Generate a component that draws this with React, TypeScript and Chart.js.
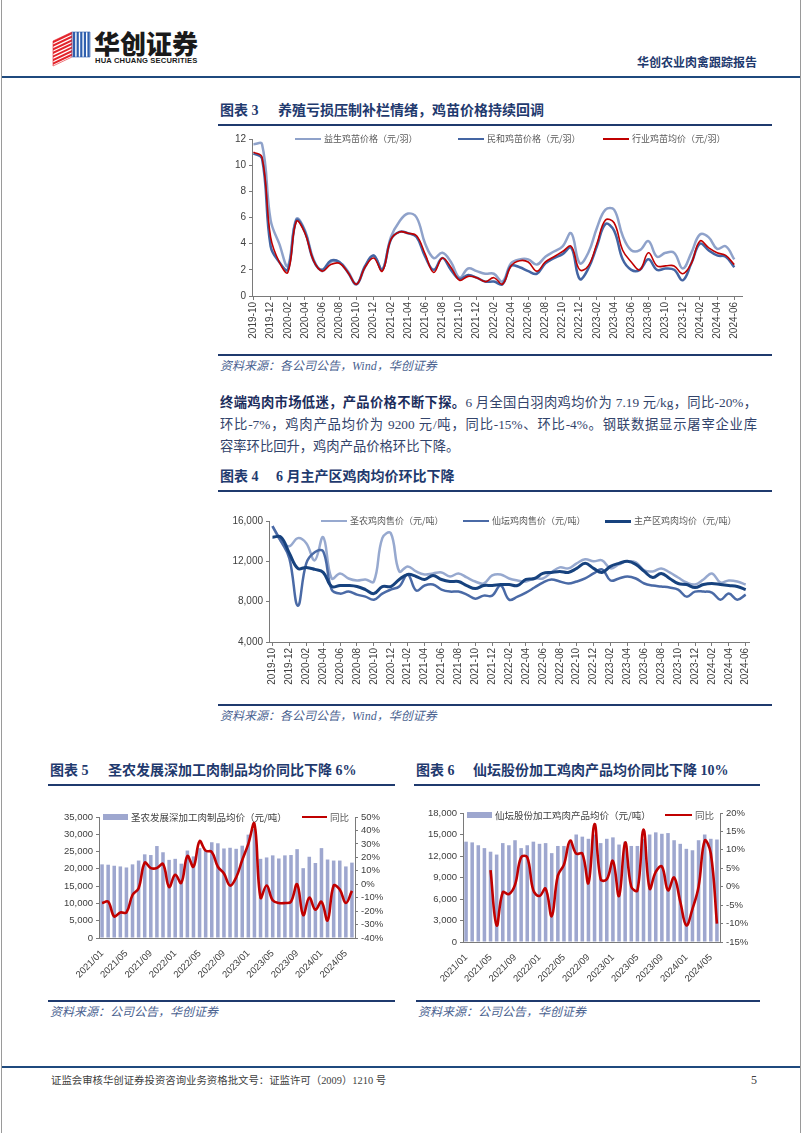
import React, { useEffect, useRef } from 'react';
import { Chart, registerables } from 'chart.js';
Chart.register(...registerables);

// ---------- Chart 3 / 4 categories ----------
const MONTHS_A = [
  '2019-10', '2019-11', '2019-12', '2020-01', '2020-02', '2020-03', '2020-04', '2020-05', '2020-06', '2020-07', '2020-08', '2020-09',
  '2020-10', '2020-11', '2020-12', '2021-01', '2021-02', '2021-03', '2021-04', '2021-05', '2021-06', '2021-07', '2021-08', '2021-09',
  '2021-10', '2021-11', '2021-12', '2022-01', '2022-02', '2022-03', '2022-04', '2022-05', '2022-06', '2022-07', '2022-08', '2022-09',
  '2022-10', '2022-11', '2022-12', '2023-01', '2023-02', '2023-03', '2023-04', '2023-05', '2023-06', '2023-07', '2023-08', '2023-09',
  '2023-10', '2023-11', '2023-12', '2024-01', '2024-02', '2024-03', '2024-04', '2024-05', '2024-06',
];

// Chart 3: chick prices (元/羽)
const YISHENG_CHICK = [
  11.6, 11.6, 5.8, 4.0, 2.3, 5.9, 5.0, 2.8, 1.9, 2.6, 2.6, 1.9,
  0.9, 2.2, 3.1, 2.0, 4.5, 5.7, 6.3, 6.0, 4.0, 2.9, 3.3, 2.6,
  1.4, 2.1, 1.9, 1.7, 1.7, 1.1, 2.5, 2.8, 2.8, 2.4, 3.0, 3.4,
  3.8, 4.8, 2.5, 3.3, 5.2, 6.6, 6.6, 4.6, 3.5, 3.5, 4.2, 3.0,
  3.3, 3.3, 2.1, 3.3, 4.7, 4.5, 3.6, 3.8, 2.8,
];
const MINHE_CHICK = [
  10.9, 10.5, 3.8, 2.6, 2.0, 5.8, 4.9, 2.7, 2.0, 2.7, 2.6, 1.8,
  0.9, 2.3, 3.1, 2.0, 4.3, 4.9, 4.8, 4.5, 3.0, 2.0, 2.9, 2.0,
  1.3, 1.6, 1.4, 1.1, 1.1, 0.9, 2.3, 2.2, 1.9, 1.7, 2.5, 2.9,
  3.2, 3.7, 1.3, 2.1, 3.8, 5.5, 5.0, 2.8, 2.0, 2.0, 2.8, 2.0,
  2.1, 2.0, 1.2, 2.5, 4.0, 3.5, 3.1, 3.0, 2.2,
];
const INDUSTRY_CHICK = [
  11.0, 10.6, 4.5, 2.6, 1.8, 5.7, 4.8, 2.7, 1.9, 2.4, 2.5, 1.8,
  0.9, 2.2, 2.9, 1.9, 4.3, 4.9, 4.8, 4.6, 3.2, 1.8, 2.9, 2.2,
  1.2, 1.5, 1.4, 1.1, 1.4, 0.9, 2.3, 2.7, 2.6, 1.9, 2.6, 3.0,
  3.4, 3.8, 2.0, 2.3, 4.0, 5.8, 5.6, 3.5, 2.6, 2.0, 3.3, 2.3,
  2.3, 2.3, 1.7, 2.5, 4.2, 3.7, 3.3, 3.1, 2.4,
];

// Chart 4: chicken meat prices (元/吨)
const SHENGNONG_MEAT = [
  15500, 14000, 13500, 14300, 13800, 12100, 14400, 10300, 10800, 10300, 10100, 10200,
  10000, 14300, 14800, 11000, 11500, 11000, 10700, 10800, 10900, 10500, 10800, 10400,
  10000, 9800, 10600, 10700, 10300, 10100, 10000, 10300, 10300, 10900, 11400, 11300,
  11800, 12200, 12000, 12100, 11300, 11700, 12000, 11900, 11100, 11000, 11300, 10900,
  10400, 9900, 9700, 10200, 10800, 9900, 10100, 10000, 9700,
];
const XIANTAN_MEAT = [
  15500, 14000, 12300, 7600, 11800, 12900, 13000, 9200, 8800, 9000, 8700, 8500,
  8200, 8800, 9200, 9500, 10700, 9100, 9600, 9700, 9200, 9000, 9000, 8700,
  8300, 8600, 8600, 9600, 8200, 8500, 8900, 9400, 9900, 10200, 10000, 9800,
  10000, 10300, 10800, 11200, 10100, 10300, 10500, 10300, 9800, 9600, 9500, 9400,
  9200, 8500, 9000, 9000, 8900, 8200, 8800, 8200, 8700,
];
const MAIN_AREA_MEAT = [
  14400, 14400, 12800, 11300, 11400, 11200, 10900, 9500, 9600, 9600, 9500, 9200,
  8800, 9500, 9500, 10200, 10700, 10500, 10200, 10600, 10200, 10000, 10000, 9600,
  9300, 9600, 9600, 9700, 9700, 9600, 10200, 10300, 10800, 10900, 11000, 10900,
  11300, 11800, 11300, 10900, 11500, 11800, 12000, 11700, 11000, 10400, 10800, 10300,
  9800, 9700, 9400, 9700, 9800, 9700, 9600, 9500, 9200,
];

// ---------- Chart 5 / 6 categories ----------
const MONTHS_B = [
  '2021/01', '2021/02', '2021/03', '2021/04', '2021/05', '2021/06', '2021/07', '2021/08', '2021/09', '2021/10', '2021/11', '2021/12',
  '2022/01', '2022/02', '2022/03', '2022/04', '2022/05', '2022/06', '2022/07', '2022/08', '2022/09', '2022/10', '2022/11', '2022/12',
  '2023/01', '2023/02', '2023/03', '2023/04', '2023/05', '2023/06', '2023/07', '2023/08', '2023/09', '2023/10', '2023/11', '2023/12',
  '2024/01', '2024/02', '2024/03', '2024/04', '2024/05', '2024/06',
];

// Chart 5: 圣农发展深加工肉制品
const SN_PRICE = [
  21300, 21200, 20900, 20700, 20400, 21300, 22400, 24200, 24000, 26600, 24800, 22600,
  22900, 21500, 25300, 23600, 26000, 25200, 27700, 27400, 25900, 26100, 25800, 26700,
  29900, 31500, 22900, 23300, 23900, 23000, 23900, 24000, 25700, 20200, 23500, 21700,
  26000, 22700, 22400, 22400, 20700, 21800,
];
const SN_YOY = [
  -14, -13, -24, -21, -21, -8, -3, 16, 12, 12, 15, -2,
  7, 1, 21, 13, 32, 25, 24, 13, 8, -1, 5, 18,
  30, 45, -10, -1, -12, -14, -14, -13, 0, -23, -10, -19,
  -13, -27, -1, -4, -14, -5,
];

// Chart 6: 仙坛股份加工鸡肉产品
const XT_PRICE = [
  14000, 13900, 13500, 13100, 12600, 12200, 13800, 13500, 14200, 13100, 13500, 14000,
  13700, 13800, 12400, 13400, 13400, 13800, 15000, 14700, 14400, 15000, 13800, 14400,
  14600, 13600, 14000, 13400, 13400, 14400, 15000, 15300, 15100, 15200, 14200, 13700,
  13000, 12800, 14200, 15000, 14400, 14300,
];
const XT_YOY = [
  null, null, null, null, 4.5, -10.5, -1.5, -2, 0.5, 8, 8, -1,
  -2.5, -0.5, -8, 3, 6, 12.5, 9, 9, 1, 17, 2, 2,
  7, -2.5, 12, 0, -1, 15.5, -0.5, 4, 5.5, -1, 2.5, -4,
  -10.5, -6, 0, 12.5, 9, -10,
];

// ---------- styles ----------
const NAVY = '#1f3a6e';
const AXIS_COLOR = '#7a7a7a';
const TICK_COLOR = '#404040';
const RED = '#c00000';
const BAR_COLOR = '#9ea7cf';
const LIGHT_BLUE = '#8fa2ca';
const MID_BLUE = '#4465a3';
const DARK_BLUE = '#17427e';
const SERIF_CJK = '"Liberation Serif", "Noto Sans CJK SC", serif';
const SANS_CJK = '"Noto Sans CJK SC", sans-serif';
const TICK_FONT_A = { family: '"Liberation Sans", Arial, sans-serif', size: 10 };
const TICK_FONT_B = { family: '"Liberation Sans", Arial, sans-serif', size: 9.5 };

const fmtThousands = (v: number) => Number(v).toLocaleString('en-US');

function monthLineConfig(opts: any) {
  const { datasets, yMin, yMax, yStep, xMin, xMax, padding, yWidth, xHeight } = opts;
  return {
    type: 'line',
    data: { datasets },
    options: {
      animation: false,
      responsive: false,
      maintainAspectRatio: false,
      layout: { padding },
      plugins: { legend: { display: false }, tooltip: { enabled: false } },
      elements: { point: { radius: 0 }, line: { tension: 0.4 } },
      scales: {
        x: {
          type: 'linear',
          min: xMin,
          max: xMax,
          afterBuildTicks: (ax: any) => {
            ax.ticks = MONTHS_A.map((_, i) => ({ value: i })).filter((t) => t.value % 2 === 0);
          },
          ticks: {
            autoSkip: false,
            minRotation: 90,
            maxRotation: 90,
            padding: 2,
            font: TICK_FONT_A,
            color: TICK_COLOR,
            callback: (v: number) => MONTHS_A[v],
          },
          grid: { drawOnChartArea: false, tickLength: 4, color: AXIS_COLOR },
          border: { color: AXIS_COLOR, width: 1 },
          afterFit: (s: any) => { s.height = xHeight; },
        },
        y: {
          min: yMin,
          max: yMax,
          ticks: { autoSkip: false, stepSize: yStep, font: TICK_FONT_A, color: TICK_COLOR, padding: 3, callback: (v: number) => fmtThousands(v) },
          grid: { drawOnChartArea: false, tickLength: 3, color: AXIS_COLOR },
          border: { color: AXIS_COLOR, width: 1 },
          afterFit: (s: any) => { s.width = yWidth; },
        },
      },
    },
  };
}

const toXY = (arr: number[]) => arr.map((v, i) => ({ x: i, y: v }));

function barComboConfig(opts: any) {
  const { price, yoy, barLabel, yMax, yStep, pMin, pMax, pStep, padding, yWidth, y1Width, xHeight } = opts;
  return {
    type: 'bar',
    data: {
      labels: MONTHS_B,
      datasets: [
        { type: 'line', label: '同比', data: yoy, yAxisID: 'y1', borderColor: RED, backgroundColor: RED, borderWidth: 2.6, pointRadius: 0, tension: 0.4, order: 0 },
        { type: 'bar', label: barLabel, data: price, yAxisID: 'y', backgroundColor: BAR_COLOR, barPercentage: 0.58, categoryPercentage: 1, order: 1 },
      ],
    },
    options: {
      animation: false,
      responsive: false,
      maintainAspectRatio: false,
      layout: { padding },
      plugins: { legend: { display: false }, tooltip: { enabled: false } },
      scales: {
        x: {
          type: 'category',
          afterBuildTicks: (ax: any) => { ax.ticks = ax.ticks.filter((_: any, i: number) => i % 4 === 0); },
          ticks: { autoSkip: false, minRotation: 45, maxRotation: 45, padding: 2, font: TICK_FONT_B, color: TICK_COLOR },
          grid: { display: false },
          border: { color: AXIS_COLOR, width: 1 },
          afterFit: (s: any) => { s.height = xHeight; },
        },
        y: {
          position: 'left',
          min: 0,
          max: yMax,
          ticks: { autoSkip: false, stepSize: yStep, font: TICK_FONT_B, color: TICK_COLOR, padding: 3, callback: (v: number) => fmtThousands(v) },
          grid: { drawOnChartArea: false, tickLength: 3, color: AXIS_COLOR },
          border: { color: AXIS_COLOR, width: 1 },
          afterFit: (s: any) => { s.width = yWidth; },
        },
        y1: {
          position: 'right',
          min: pMin,
          max: pMax,
          ticks: { autoSkip: false, stepSize: pStep, font: TICK_FONT_B, color: TICK_COLOR, padding: 3, callback: (v: number) => v + '%' },
          grid: { drawOnChartArea: false, tickLength: 3, color: AXIS_COLOR },
          border: { color: AXIS_COLOR, width: 1 },
          afterFit: (s: any) => { s.width = y1Width; },
        },
      },
    },
  };
}

function ChartCanvas({ left, top, width, height, make }: any) {
  const ref = useRef<HTMLCanvasElement | null>(null);
  useEffect(() => {
    const chart = new Chart(ref.current as HTMLCanvasElement, make());
    return () => chart.destroy();
  }, []);
  return (
    <canvas
      ref={ref}
      width={width}
      height={height}
      style={{ position: 'absolute', left, top, width, height }}
    />
  );
}

function Abs({ x, y, children, style }: any) {
  return <div style={{ position: 'absolute', left: x, top: y, whiteSpace: 'nowrap', ...style }}>{children}</div>;
}

function HLine({ x1, x2, y, color = NAVY, h = 1.5 }: any) {
  return <div style={{ position: 'absolute', left: x1, top: y, width: x2 - x1, height: h, background: color }} />;
}

function LegendLine({ x, y, w = 26, color, thick = 2.5, text, size = 9.5, gap = 3 }: any) {
  return (
    <>
      <div style={{ position: 'absolute', left: x, top: y - thick / 2, width: w, height: thick, background: color }} />
      <Abs x={x + w + gap} y={y - 8} style={{ fontFamily: SANS_CJK, fontSize: size, lineHeight: '16px', color: '#595959' }}>{text}</Abs>
    </>
  );
}

function LegendBar({ x, y, w = 25, h = 6, color, text, size = 9.5 }: any) {
  return (
    <>
      <div style={{ position: 'absolute', left: x, top: y - h / 2, width: w, height: h, background: color }} />
      <Abs x={x + w + 3} y={y - 8} style={{ fontFamily: SANS_CJK, fontSize: size, lineHeight: '16px', color: '#404040' }}>{text}</Abs>
    </>
  );
}

function Title({ x, x2, y, num, text, lineX2 }: any) {
  return (
    <>
      <Abs x={x} y={y - 10} style={{ fontFamily: SERIF_CJK, fontWeight: 700, fontSize: 14, lineHeight: '20px', color: NAVY }}>图表 {num}</Abs>
      <Abs x={x2} y={y - 10} style={{ fontFamily: SERIF_CJK, fontWeight: 700, fontSize: 14, lineHeight: '20px', color: NAVY }}>{text}</Abs>
      <HLine x1={x - 2} x2={lineX2} y={y + 13} h={1.5} />
    </>
  );
}

function Source({ x, x2, y, text }: any) {
  return (
    <>
      <HLine x1={x - 2} x2={x2} y={y - 12} h={1.5} />
      <Abs x={x} y={y - 9} style={{ fontFamily: SERIF_CJK, fontStyle: 'italic', fontSize: 12, lineHeight: '18px', color: '#4a6290' }}>{text}</Abs>
    </>
  );
}

function Logo() {
  const reds = [0, 1, 2, 3, 4, 5, 6];
  const blues = [0, 1, 2, 3, 4];
  return (
    <svg style={{ position: 'absolute', left: 52, top: 29 }} width={40} height={38} viewBox="0 0 40 38">
      {reds.map((k) => (
        <polygon key={'r' + k} points={`${1},${12 + k * 3.6} ${20},${3 + k * 3.6} ${20},${5.2 + k * 3.6} ${1},${14.2 + k * 3.6}`} fill="#e3242b" />
      ))}
      <polygon points="1,12 20,3 20,28 1,37" fill="none" stroke="#e3242b" strokeWidth="0.6" />
      {blues.map((k) => (
        <rect key={'b' + k} x={21 + k * 3.6} y={3} width={2.2} height={25} fill="#2f5fae" />
      ))}
      <polygon points="20,3 38,3 38,28 20,28" fill="none" stroke="#2f5fae" strokeWidth="0.6" />
    </svg>
  );
}

export default function App() {
  const pageStyle: any = {
    position: 'absolute',
    left: 0,
    top: 0,
    width: 802,
    height: 1133,
    background: '#ffffff',
    overflow: 'hidden',
    fontFamily: SERIF_CJK,
  };

  const paraBase: any = {
    position: 'absolute',
    left: 220,
    width: 537,
    fontFamily: SERIF_CJK,
    fontSize: 13.3,
    lineHeight: '22px',
    color: '#33446b',
  };

  return (
    <div style={pageStyle}>
      {/* page frame */}
      <div style={{ position: 'absolute', left: 1, top: 0, width: 1, height: 1133, background: '#9a9a9a' }} />
      <div style={{ position: 'absolute', left: 800, top: 0, width: 1, height: 1133, background: '#9a9a9a' }} />

      {/* header */}
      <Logo />
      <Abs x={94} y={27} style={{ fontFamily: SANS_CJK, fontWeight: 900, fontSize: 26, lineHeight: '32px', color: '#1a1a1a', letterSpacing: 0 }}>华创证券</Abs>
      <Abs x={95} y={56} style={{ fontFamily: '"Liberation Sans", Arial, sans-serif', fontWeight: 700, fontSize: 7.6, lineHeight: '10px', color: '#1a1a1a', letterSpacing: 0.15 }}>HUA CHUANG SECURITIES</Abs>
      <Abs x={637} y={53} style={{ fontFamily: SANS_CJK, fontWeight: 700, fontSize: 12, lineHeight: '18px', color: NAVY }}>华创农业肉禽跟踪报告</Abs>
      <HLine x1={2} x2={800} y={76} h={2} color="#1f4a7e" />

      {/* Chart 3 */}
      <Title x={220} x2={278} y={111} num="3" text="养殖亏损压制补栏情绪，鸡苗价格持续回调" lineX2={772} />
      <ChartCanvas
        left={218}
        top={130}
        width={554}
        height={220}
        make={() =>
          monthLineConfig({
            datasets: [
              { label: '行业鸡苗均价（元/羽）', data: toXY(INDUSTRY_CHICK), borderColor: RED, borderWidth: 1.6, order: 0 },
              { label: '民和鸡苗价格（元/羽）', data: toXY(MINHE_CHICK), borderColor: MID_BLUE, borderWidth: 2.5, order: 1 },
              { label: '益生鸡苗价格（元/羽）', data: toXY(YISHENG_CHICK), borderColor: LIGHT_BLUE, borderWidth: 2.5, order: 2 },
            ],
            yMin: 0,
            yMax: 12,
            yStep: 2,
            xMin: -0.17,
            xMax: 56.9,
            padding: { top: 8, right: 30, left: 0, bottom: 0 },
            yWidth: 34,
            xHeight: 54,
          })
        }
      />
      <LegendLine x={295} y={139} color={LIGHT_BLUE} text="益生鸡苗价格（元/羽）" size={9} />
      <LegendLine x={458} y={139} color={MID_BLUE} text="民和鸡苗价格（元/羽）" size={9} />
      <LegendLine x={603} y={139} color={RED} thick={1.6} text="行业鸡苗均价（元/羽）" size={9} />
      <Source x={220} x2={772} y={366} text="资料来源：各公司公告，Wind，华创证券" />

      {/* paragraph */}
      <div style={{ ...paraBase, top: 392, textAlign: 'justify', textAlignLast: 'justify' }}>
        <span style={{ fontWeight: 700, color: '#1b2d5c' }}>终端鸡肉市场低迷，产品价格不断下探。</span>6 月全国白羽肉鸡均价为 7.19 元/kg，同比-20%，
      </div>
      <div style={{ ...paraBase, top: 414, textAlign: 'justify', textAlignLast: 'justify' }}>
        环比-7%，鸡肉产品均价为 9200 元/吨，同比-15%、环比-4%。钢联数据显示屠宰企业库
      </div>
      <div style={{ ...paraBase, top: 436 }}>容率环比回升，鸡肉产品价格环比下降。</div>

      {/* Chart 4 */}
      <Title x={220} x2={276} y={477} num="4" text="6 月主产区鸡肉均价环比下降" lineX2={772} />
      <ChartCanvas
        left={218}
        top={505}
        width={554}
        height={190}
        make={() =>
          monthLineConfig({
            datasets: [
              { label: '主产区鸡肉均价（元/吨）', data: toXY(MAIN_AREA_MEAT), borderColor: DARK_BLUE, borderWidth: 3, order: 0 },
              { label: '仙坛鸡肉售价（元/吨）', data: toXY(XIANTAN_MEAT), borderColor: '#4a6aa6', borderWidth: 2.5, order: 1 },
              { label: '圣农鸡肉售价（元/吨）', data: toXY(SHENGNONG_MEAT), borderColor: '#97a9cf', borderWidth: 2.5, order: 2 },
            ],
            yMin: 4000,
            yMax: 16000,
            yStep: 4000,
            xMin: -0.41,
            xMax: 56.39,
            padding: { top: 16, right: 23, left: 0, bottom: 0 },
            yWidth: 51,
            xHeight: 53,
          })
        }
      />
      <LegendLine x={321} y={521} color="#97a9cf" text="圣农鸡肉售价（元/吨）" size={9} />
      <LegendLine x={463} y={521} color="#4a6aa6" text="仙坛鸡肉售价（元/吨）" size={9} />
      <LegendLine x={605} y={521} color={DARK_BLUE} thick={3} text="主产区鸡肉均价（元/吨）" size={9} />
      <Source x={220} x2={772} y={716} text="资料来源：各公司公告，Wind，华创证券" />

      {/* Chart 5 */}
      <Title x={50} x2={108} y={771} num="5" text="圣农发展深加工肉制品均价同比下降 6%" lineX2={395} />
      <ChartCanvas
        left={40}
        top={795}
        width={360}
        height={200}
        make={() =>
          barComboConfig({
            price: SN_PRICE,
            yoy: SN_YOY,
            barLabel: '圣农发展深加工肉制品均价（元/吨）',
            yMax: 35000,
            yStep: 5000,
            pMin: -40,
            pMax: 50,
            pStep: 10,
            padding: { top: 22, right: 0, left: 0, bottom: 0 },
            yWidth: 59,
            y1Width: 45,
            xHeight: 57,
          })
        }
      />
      <LegendBar x={103} y={817} color={BAR_COLOR} text="圣农发展深加工肉制品均价（元/吨）" />
      <LegendLine x={302} y={817} w={25} color={RED} thick={2.5} text="同比" size={9.5} />
      <Source x={50} x2={395} y={1012} text="资料来源：公司公告，华创证券" />

      {/* Chart 6 */}
      <Title x={416} x2={473} y={771} num="6" text="仙坛股份加工鸡肉产品均价同比下降 10%" lineX2={760} />
      <ChartCanvas
        left={410}
        top={795}
        width={360}
        height={200}
        make={() =>
          barComboConfig({
            price: XT_PRICE,
            yoy: XT_YOY,
            barLabel: '仙坛股份加工鸡肉产品均价（元/吨）',
            yMax: 18000,
            yStep: 3000,
            pMin: -15,
            pMax: 20,
            pStep: 5,
            padding: { top: 18, right: 0, left: 0, bottom: 0 },
            yWidth: 53,
            y1Width: 50,
            xHeight: 53,
          })
        }
      />
      <LegendBar x={467} y={815} color={BAR_COLOR} text="仙坛股份加工鸡肉产品均价（元/吨）" />
      <LegendLine x={665} y={815} w={27} color={RED} thick={2.5} text="同比" size={9.5} />
      <Source x={418} x2={760} y={1012} text="资料来源：公司公告，华创证券" />

      {/* footer */}
      <HLine x1={2} x2={800} y={1066} h={1.5} color="#1f4a7e" />
      <Abs x={51} y={1073} style={{ fontFamily: SERIF_CJK, fontSize: 10.4, lineHeight: '16px', color: '#404040' }}>证监会审核华创证券投资咨询业务资格批文号：证监许可（2009）1210 号</Abs>
      <Abs x={751} y={1072} style={{ fontFamily: SERIF_CJK, fontSize: 12, lineHeight: '16px', color: '#404040' }}>5</Abs>
    </div>
  );
}
